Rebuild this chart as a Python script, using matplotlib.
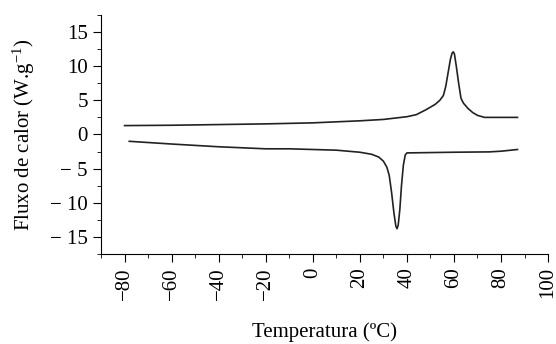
import matplotlib
matplotlib.use("Agg")
import numpy as np
import matplotlib.pyplot as plt
from matplotlib.ticker import MultipleLocator

plt.rcParams["font.family"] = ["Liberation Serif", "DejaVu Serif"]
plt.rcParams["mathtext.fontset"] = "custom"
plt.rcParams["mathtext.rm"] = "Liberation Serif"
plt.rcParams["mathtext.it"] = "Liberation Serif:italic"

# heating curve (upper)
temp_heat = [-80, -60, -40, -20, 0, 20, 30, 40, 44, 48, 52, 54, 55.5, 56.5, 57.5,
             58.5, 59.2, 59.7, 60.2, 61, 62, 63, 64, 66, 68, 70, 73, 80, 87]
flux_heat = [1.3, 1.35, 1.45, 1.55, 1.7, 2.0, 2.2, 2.6, 2.9, 3.6, 4.4, 5.0, 5.7,
             7.0, 9.0, 11.0, 11.9, 12.1, 11.8, 10.0, 7.5, 5.3, 4.6, 3.8, 3.2, 2.8,
             2.5, 2.5, 2.5]

# cooling curve (lower)
temp_cool = [-78, -60, -40, -20, -10, 0, 10, 20, 25, 28, 30, 31.5, 32.5, 33.5,
             34.5, 35.3, 35.8, 36.3, 37, 37.7, 38.5, 39.3, 40, 60, 75, 80, 87]
flux_cool = [-1.0, -1.4, -1.8, -2.1, -2.1, -2.2, -2.3, -2.6, -2.9, -3.3, -3.9,
             -4.8, -6.0, -8.5, -11.5, -13.4, -13.8, -13.3, -11.0, -7.5, -4.5,
             -3.0, -2.7, -2.6, -2.55, -2.45, -2.2]

x_ticks = [-80, -60, -40, -20, 0, 20, 40, 60, 80, 100]
y_ticks = [-15, -10, -5, 0, 5, 10, 15]

fig = plt.figure(figsize=(5.56, 3.44), dpi=100)
ax = fig.add_axes([0.1817, 0.2616, 0.804, 0.695])

ax.plot(temp_heat, flux_heat, color="#222222", linewidth=1.2)
ax.plot(temp_cool, flux_cool, color="#222222", linewidth=1.2)

ax.set_xlim(-90, 100)
ax.set_ylim(-17.5, 17.5)
ax.set_xticks(x_ticks)
ax.set_xticklabels([str(t).replace("-", "\u2212") for t in x_ticks], rotation=90)
ax.set_yticks(y_ticks)
ax.set_yticklabels([str(t).replace("-", "\u2212 ") for t in y_ticks])
ax.xaxis.set_minor_locator(MultipleLocator(10))
ax.yaxis.set_minor_locator(MultipleLocator(2.5))
ax.tick_params(which="both", direction="out", labelsize=15)
ax.tick_params(which="major", length=6)
ax.tick_params(which="minor", length=3)

for side in ["top", "right"]:
    ax.spines[side].set_visible(False)

ax.set_xlabel("Temperatura (ºC)", fontsize=15, labelpad=16)
ax.set_ylabel("Fluxo de calor (W.g$^{-1}$)", fontsize=15, labelpad=9)

fig.savefig("out.png", dpi=100)
